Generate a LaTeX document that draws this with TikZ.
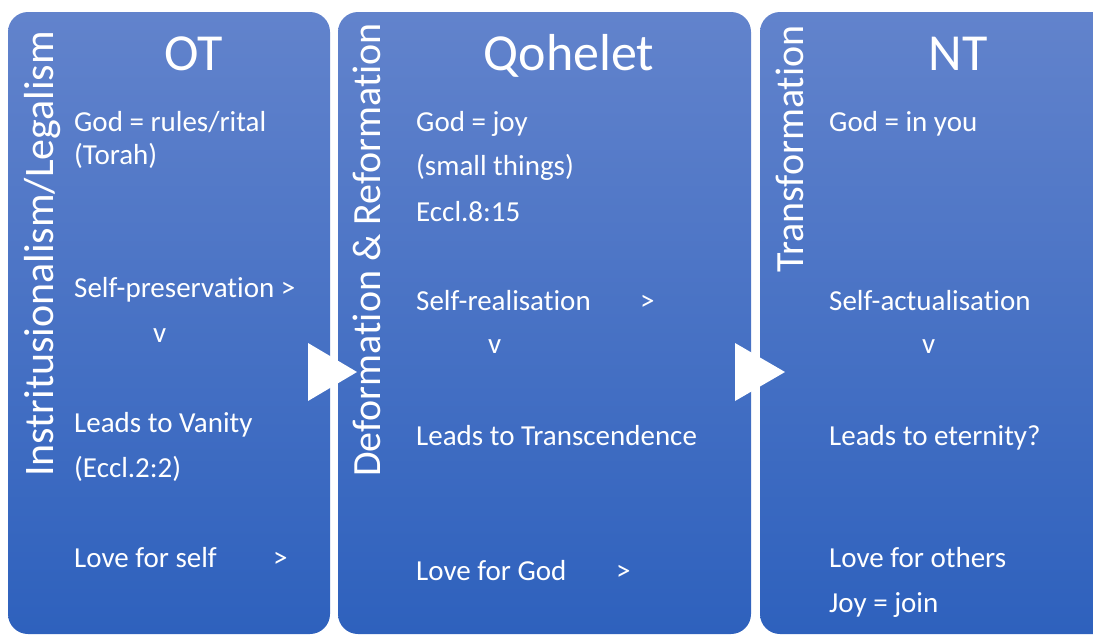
\documentclass[tikz,border=0pt]{standalone}
\usepackage{fontspec}
\setmainfont{Carlito}[Ligatures = CommonOff]
\usetikzlibrary{positioning}
\definecolor{paneltop}{RGB}{98,131,204}
\definecolor{panelbottom}{RGB}{46,97,189}
\tikzset{
  panel/.style = {rectangle, rounded corners = 20pt, inner sep = 0pt,
    top color = paneltop, bottom color = panelbottom, minimum height = 622pt},
  heading/.style = {text = white, anchor = base, inner sep = 0pt,
    font = \fontsize{52}{60}\selectfont},
  side/.style = {text = white, rotate = 90, anchor = base west, inner sep = 0pt,
    font = \fontsize{40}{48}\selectfont},
  line/.style = {text = white, anchor = base west, inner sep = 0pt,
    font = \fontsize{29}{35}\selectfont},
  pointer/.style = {fill = white},
}

\begin{document}
\begin{tikzpicture}[x = 1pt, y = -1pt]
  \useasboundingbox (0,0) rectangle (1093,635);
  \clip (0,0) rectangle (1093,635);
  % panels
  \node [panel, minimum width = 322pt] (ot) at (169,323) {};
  \node [panel, minimum width = 413pt] (qoh) at (544.5,323) {};
  \node [panel, minimum width = 360pt] (nt) at (940,323) {};
  % arrows
  \fill [pointer] (308,343) -- (357,372) -- (308,401) -- cycle;
  \fill [pointer] (735,343) -- (785,372) -- (735,401) -- cycle;
  % side texts
  \node [side, font = \fontsize{42}{50}\selectfont] (otside) at (53,477)
    {Instritusionalism/Legalism};
  \node [side] (qohside) at (380,477) {Deformation \& Reformation};
  \node [side] (ntside) at (803,273) {Transformation};
  % titles
  \node [heading] (ottitle) at (194,70) {OT};
  \node [heading] (qohtitle) at (569,70) {Qohelet};
  \node [heading] (nttitle) at (958,70) {NT};
  % OT
  \node [line] (otgod) at (74,131) {God = rules/rital};
  \node [line] (ottorah) at (74,164) {(Torah)};
  \node [line] (otself) at (74,297) {Self-preservation >};
  \node [line] (otv) at (153,342) {v};
  \node [line] (otleads) at (74,432) {Leads to Vanity};
  \node [line] (oteccl) at (74,477) {(Eccl.2:2)};
  \node [line] (otlove) at (74,567) {Love for self};
  \node [line] (otgt) at (273,567) {>};
  % Qohelet
  \node [line] (qohgod) at (416,131) {God = joy};
  \node [line] (qohsmall) at (416,175) {(small things)};
  \node [line] (qoheccl) at (416,221) {Eccl.8:15};
  \node [line] (qohself) at (416,310) {Self-realisation};
  \node [line] (qohselfgt) at (640,310) {>};
  \node [line] (qohv) at (488,353) {v};
  \node [line] (qohleads) at (416,445) {Leads to Transcendence};
  \node [line] (qohlove) at (416,580) {Love for God};
  \node [line] (qohlovegt) at (616,580) {>};
  % NT
  \node [line] (ntgod) at (829,131) {God = in you};
  \node [line] (ntself) at (829,310) {Self-actualisation};
  \node [line] (ntv) at (922,353) {v};
  \node [line] (ntleads) at (829,445) {Leads to eternity?};
  \node [line] (ntlove) at (829,567) {Love for others};
  \node [line] (ntjoy) at (829,612) {Joy = join};
\end{tikzpicture}
\end{document}
